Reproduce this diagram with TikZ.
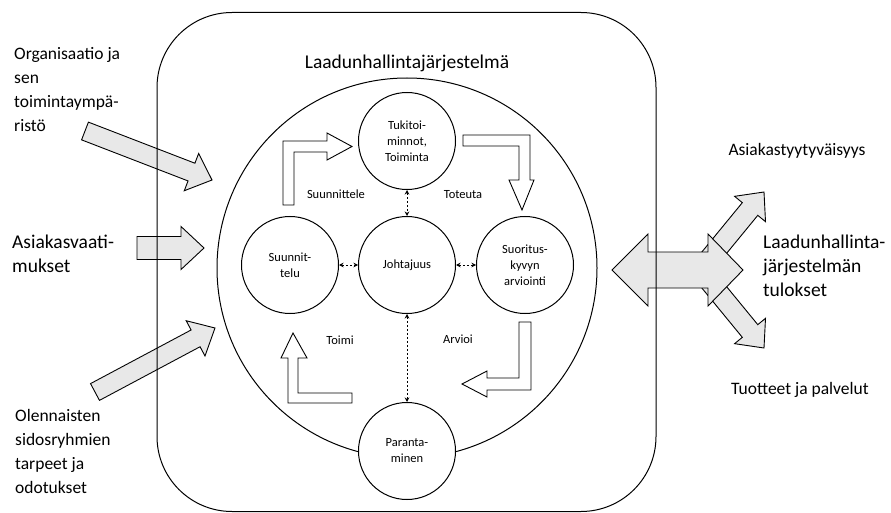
\documentclass[tikz,border=0pt]{standalone}
\usepackage{fontspec}
\setmainfont{Carlito}
\usetikzlibrary{arrows.meta,calc}
\definecolor{arrgray}{HTML}{E8E8E8}
\newcommand\fatarrow[5]{%
  \coordinate (fa-h) at ($(#2)!#5!(#1)$);
  \draw[grayarr] ($(#1)!#3!90:(#2)$) -- ($(fa-h)!#3!90:(#2)$) -- ($(fa-h)!#4!90:(#2)$) -- (#2)
    -- ($(fa-h)!#4!-90:(#2)$) -- ($(fa-h)!#3!-90:(#2)$) -- ($(#1)!#3!-90:(#2)$) -- cycle;}
\begin{document}
\begin{tikzpicture}[x=1pt,y=-1pt,
  circ/.style={draw,line width=1pt,circle,minimum size=97pt,inner sep=0pt,align=center,fill=white,
    font=\fontsize{12.5}{16}\selectfont},
  lbl/.style={font=\fontsize{12.5}{16}\selectfont,inner sep=0pt},
  hollow/.style={draw,line width=0.9pt,fill=white,line join=miter},
  grayarr/.style={draw,line width=0.9pt,fill=arrgray,line join=miter},
  dasharr/.style={dash pattern=on 2.5pt off 1.5pt,line width=0.8pt,
    {Stealth[length=4.5pt,width=4.5pt]}-{Stealth[length=4.5pt,width=4.5pt]}},
  bigtxt/.style={font=\fontsize{19.5}{24}\selectfont,align=left,inner sep=0pt},
  midtxt/.style={font=\fontsize{17.5}{24}\selectfont,align=left,inner sep=0pt}]
\useasboundingbox (0,0) rectangle (891,513);

% left input arrows
\coordinate (a1t) at (85,131); \coordinate (a1h) at (212,180);
\coordinate (a2t) at (137,248); \coordinate (a2h) at (204,248);
\coordinate (a3t) at (95,392); \coordinate (a3h) at (215,328);
\fatarrow{a1t}{a1h}{9.5pt}{20pt}{22pt}
\fatarrow{a2t}{a2h}{11.5pt}{21.5pt}{23pt}
\fatarrow{a3t}{a3h}{9.5pt}{20pt}{22pt}

% right output arrows
\coordinate (o1t) at (700,270); \coordinate (o1h) at (764,192);
\coordinate (o2t) at (700,270); \coordinate (o2h) at (764,348);
\fatarrow{o1t}{o1h}{10pt}{20pt}{22pt}
\fatarrow{o2t}{o2h}{10pt}{20pt}{22pt}
\draw[grayarr] (612,270) -- (648,234) -- (648,252) -- (708,252) -- (708,234) -- (743,270)
  -- (708,306) -- (708,288) -- (648,288) -- (648,306) -- cycle;

% system frame
\node[draw,line width=1pt,rounded corners=75pt,minimum width=499pt,minimum height=499pt,inner sep=0pt] (sys) at (406.5,262) {};
\node[font=\fontsize{19.5}{24}\selectfont] (title) at (407,63) {Laadunhallintajärjestelmä};

% big circle
\node[draw,circle,line width=1pt,minimum size=380pt,inner sep=0pt] (big) at (407,268) {};

% process circles
\node[circ] (tuki) at (407,141) {Tukitoi-\\minnot,\\Toiminta};
\node[circ] (joht) at (407,265) {Johtajuus};
\node[circ] (suun) at (290,265) {Suunnit-\\telu};
\node[circ] (suor) at (525,265) {Suoritus-\\kyvyn\\arviointi};
\node[circ] (para) at (407,451) {Paranta-\\minen};

% dashed links
\draw[dasharr] (tuki) -- (joht);
\draw[dasharr] (suun) -- (joht);
\draw[dasharr] (joht) -- (suor);
\draw[dasharr] (joht) -- (para);

% hollow L arrows
\draw[hollow] (283,205) -- (283,141) -- (327,141) -- (327,133) -- (352,146.5) -- (327,160) -- (327,152) -- (294,152) -- (294,205) -- cycle;
\draw[hollow] (463,135) -- (530,135) -- (530,180) -- (534,180) -- (522,210) -- (509,180) -- (519,180) -- (519,146) -- (463,146) -- cycle;
\draw[hollow] (531,322) -- (531,390) -- (487,390) -- (487,397) -- (462,384) -- (487,371) -- (487,378) -- (519,378) -- (519,322) -- cycle;
\draw[hollow] (352,403) -- (288,403) -- (288,358) -- (281,358) -- (293,333) -- (307,358) -- (298,358) -- (298,393) -- (352,393) -- cycle;

% step labels
\node[lbl] (l1) at (336,194) {Suunnittele};
\node[lbl] (l2) at (463,195) {Toteuta};
\node[lbl] (l3) at (340,340) {Toimi};
\node[lbl] (l4) at (458,339) {Arvioi};

% outside texts
\node[midtxt,anchor=north west] (in1) at (14,47) {Organisaatio ja\\sen\\toimintaympä-\\ristö};
\node[bigtxt,anchor=north west] (in2) at (12,235) {Asiakasvaati-\\mukset};
\node[midtxt,anchor=north west] (in3) at (15,409) {Olennaisten\\sidosryhmien\\tarpeet ja\\odotukset};
\node[bigtxt,anchor=north west] (out) at (763,235) {Laadunhallinta-\\järjestelmän\\tulokset};
\node[midtxt] (out1) at (797,151) {Asiakastyytyväisyys};
\node[midtxt] (out2) at (800,390) {Tuotteet ja palvelut};
\end{tikzpicture}
\end{document}
